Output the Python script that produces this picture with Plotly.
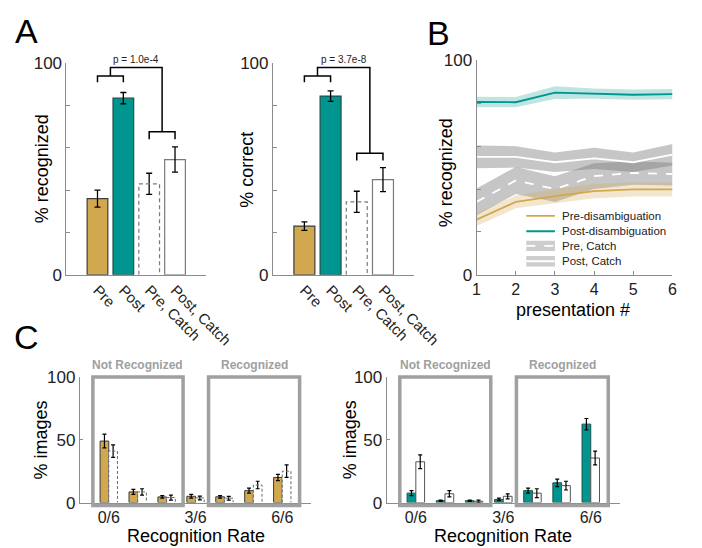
import plotly.graph_objects as go

#######################################################
# data

conditions = ['Pre', 'Post', 'Pre, Catch', 'Post, Catch']
recognized_mean = [36, 83.5, 43, 54.5]
recognized_err = [4, 2.7, 5, 6]
correct_mean = [23, 84.5, 34.5, 45]
correct_err = [2, 2.5, 5, 5.7]
p_recognized = 'p = 1.0e-4'
p_correct = 'p = 3.7e-8'

presentation = [1, 2, 3, 4, 5, 6]
pre_line = [25.7, 34, 36.7, 39, 39.8, 39.8]
pre_band = [3, 3, 3.3, 3.3, 3.3, 3.3]
post_line = [80.6, 80.5, 85, 84.5, 84, 84.3]
post_band = [2.4, 2.4, 3, 2.4, 2.4, 2.4]
pre_catch_line = [34, 44, 40, 46, 47.5, 47]
pre_catch_band = [6.3, 6.3, 6, 6, 5.5, 5.3]
post_catch_line = [55, 55, 52.5, 54.3, 52.5, 56]
post_catch_band = [5.3, 5, 4.5, 5, 4.5, 5]

rate_labels = ['0/6', '1/6', '2/6', '3/6', '4/6', '5/6', '6/6']
pre_hist = [49, 8.5, 4.5, 5, 4.6, 9.5, 20]
pre_hist_err = [5.5, 2, 1, 1.5, 1, 2, 2.5]
pre_catch_hist = [41, 8.5, 4, 3.7, 3.5, 14, 25]
pre_catch_hist_err = [5, 2.5, 2, 1.5, 1.5, 3, 5]
post_hist = [7.5, 1.5, 1.5, 2.5, 9.5, 15.7, 62.5]
post_hist_err = [2, 0.5, 0.5, 1, 2, 3, 4.5]
post_catch_hist = [32.5, 7, 1, 5, 7.5, 13.5, 35.5]
post_catch_hist_err = [5.5, 2.5, 1, 2, 3.5, 3.5, 5.5]

#######################################################
# style

W, H = 702, 548
GOLD = '#D2A84E'
TEAL = '#00968F'
AXIS = '#8c8c8c'
FONT = 'Liberation Sans'
TXT = '#222222'

def px(x):
    return x / W

def py(y):
    return 1 - y / H

# axis domains in pixels (left, right, bottom, top)
A1 = (57, 203, 267, 48)
A2 = (273, 421, 267, 48)
B = (486, 691, 267, 45)
C1 = (71, 313, 503, 373)
C2 = (392, 636, 503, 373)
A_RANGE = [-0.2, 5.2]
C_RANGE = [-1, 7]

fig = go.Figure()


def set_axes(n, box, xrange, yrange, x=None, y=None):
    xa = 'xaxis' if n == 1 else f'xaxis{n}'
    ya = 'yaxis' if n == 1 else f'yaxis{n}'
    common = dict(showline=True, linecolor=AXIS, linewidth=1, showgrid=False,
                  zeroline=False, mirror=False,
                  tickfont=dict(family=FONT, size=17, color=TXT))
    fig.update_layout({
        xa: {**common, 'domain': [px(box[0]), px(box[1])], 'range': xrange,
             'anchor': f'y{n}' if n > 1 else 'y', **(x or {})},
        ya: {**common, 'domain': [py(box[2]), py(box[3])], 'range': yrange,
             'anchor': f'x{n}' if n > 1 else 'x', **(y or {})},
    })


# 조건별 막대 + bracket
def bar_panel(n, means, errs, pval, h2):
    xa, ya = f'x{n}', f'y{n}'
    xs = [1, 2, 3, 4]
    fig.add_trace(go.Bar(
        x=xs, y=means, width=0.8,
        marker=dict(color=[GOLD, TEAL, 'white', 'white'],
                    line=dict(color=['#3c3c3c', '#1d4f4c', 'rgba(0,0,0,0)', '#7a7a7a'], width=1.2)),
        error_y=dict(type='data', array=errs, color='black', thickness=1.3, width=3),
        xaxis=xa, yaxis=ya, showlegend=False))
    # dashed outline for the "Pre, Catch" bar
    i = 2
    fig.add_trace(go.Scatter(
        x=[xs[i] - 0.4, xs[i] - 0.4, xs[i] + 0.4, xs[i] + 0.4],
        y=[0, means[i], means[i], 0], mode='lines',
        line=dict(color='#7a7a7a', width=1.2, dash='4px,3px'),
        xaxis=xa, yaxis=ya, showlegend=False, hoverinfo='skip'))
    # significance bracket
    fig.add_trace(go.Scatter(
        x=[1, 1, 2, 2, None, 1.5, 1.5, 3.5, 3.5, None, 3, 3, 4, 4],
        y=[91, 94, 94, 91, None, 94, 98, 98, h2, None, h2 - 3.5, h2, h2, h2 - 3.5],
        mode='lines', line=dict(color='black', width=1.5),
        xaxis=xa, yaxis=ya, showlegend=False, hoverinfo='skip'))
    fig.add_annotation(x=2.5, y=98.5, xref=xa, yref=ya, text=pval, showarrow=False,
                       xanchor='center', yanchor='bottom', font=dict(family=FONT, size=10, color=TXT))


bar_panel(1, recognized_mean, recognized_err, p_recognized, 67.6)
bar_panel(2, correct_mean, correct_err, p_correct, 57.5)

a_x = dict(tickvals=[1, 2, 3, 4], ticktext=conditions, tickangle=45, ticks='',
           tickfont=dict(family=FONT, size=15, color=TXT))
a_y = dict(tickvals=[0, 20, 40, 60, 80, 100], ticktext=['0', '', '', '', '', '100'],
           ticks='inside', ticklen=4, tickcolor=AXIS)
set_axes(1, A1, A_RANGE, [0, 100], x=a_x, y=a_y)
set_axes(2, A2, A_RANGE, [0, 100], x=a_x, y=a_y)

#######################################################
# B: presentation 별 인식률 (line + band)

series_b = [
    (pre_catch_line, pre_catch_band, 'rgba(120,120,120,0.42)', 'white', 'dash'),
    (post_catch_line, post_catch_band, 'rgba(120,120,120,0.42)', 'white', 'solid'),
    (pre_line, pre_band, 'rgba(210,168,78,0.28)', GOLD, 'solid'),
    (post_line, post_band, 'rgba(0,150,143,0.25)', TEAL, 'solid'),
]
for mean, band, fillc, linec, dash in series_b:
    upper = [m + b for m, b in zip(mean, band)]
    lower = [m - b for m, b in zip(mean, band)]
    fig.add_trace(go.Scatter(
        x=presentation + presentation[::-1], y=upper + lower[::-1],
        fill='toself', fillcolor=fillc, line=dict(width=0), mode='lines',
        xaxis='x3', yaxis='y3', showlegend=False, hoverinfo='skip'))
for mean, band, fillc, linec, dash in series_b:
    fig.add_trace(go.Scatter(
        x=presentation, y=mean, mode='lines',
        line=dict(color=linec, width=1.8, dash=dash),
        xaxis='x3', yaxis='y3', showlegend=False))

set_axes(3, B, [1, 6], [0, 100],
         x=dict(tickvals=presentation, ticks='inside', ticklen=4, tickcolor=AXIS,
                tickfont=dict(family=FONT, size=16, color=TXT)),
         y=dict(tickvals=[0, 20, 40, 60, 80, 100], ticktext=['0', '', '', '', '', '100'],
                ticks='inside', ticklen=4, tickcolor=AXIS))

# legend drawn inside panel B
legend_b = [
    ('Pre-disambiguation', GOLD, None),
    ('Post-disambiguation', TEAL, None),
    ('Pre, Catch', 'white', 'dash'),
    ('Post, Catch', 'white', 'solid'),
]
leg_rows = [27.5, 20.3, 13.5, 6.3]
for (label, color, band), yy in zip(legend_b, leg_rows):
    if band:
        fig.add_shape(type='rect', xref='x3', yref='y3', x0=2.27, x1=3.0,
                      y0=yy - 2.4, y1=yy + 2.4, fillcolor='#cdcdcd',
                      line=dict(width=0), opacity=1)
    fig.add_shape(type='line', xref='x3', yref='y3', x0=2.27, x1=3.0, y0=yy, y1=yy,
                  line=dict(color=color, width=1.8, dash=band if band else 'solid'), opacity=1)
    fig.add_annotation(x=3.12, y=yy, xref='x3', yref='y3', text=label, showarrow=False,
                       xanchor='left', font=dict(family=FONT, size=11.5, color=TXT))

#######################################################
# C: 이미지별 인식 비율 히스토그램

def hist_panel(n, box, main, main_err, catch, catch_err, color, edge, dashed):
    xa, ya = f'x{n}', f'y{n}'
    xs = list(range(len(rate_labels)))
    fig.add_trace(go.Bar(
        x=[x - 0.15 for x in xs], y=main, width=0.3,
        marker=dict(color=color, line=dict(color=edge, width=1)),
        error_y=dict(type='data', array=main_err, color='black', thickness=1.2, width=2),
        xaxis=xa, yaxis=ya, showlegend=False))
    fig.add_trace(go.Bar(
        x=[x + 0.15 for x in xs], y=catch, width=0.3,
        marker=dict(color='white', line=dict(color='rgba(0,0,0,0)' if dashed else '#555555', width=1)),
        error_y=dict(type='data', array=catch_err, color='black', thickness=1.2, width=2),
        xaxis=xa, yaxis=ya, showlegend=False))
    if dashed:
        ox, oy = [], []
        for x, v in zip(xs, catch):
            ox += [x, x, x + 0.3, x + 0.3, None]
            oy += [0, v, v, 0, None]
        fig.add_trace(go.Scatter(x=ox, y=oy, mode='lines',
                                 line=dict(color='#6a6a6a', width=1, dash='3px,2px'),
                                 xaxis=xa, yaxis=ya, showlegend=False, hoverinfo='skip'))
    # grey group boxes (drawn in paper coords so they may poke below the axis)
    def tx(v):
        return px(box[0] + (v - C_RANGE[0]) / (C_RANGE[1] - C_RANGE[0]) * (box[1] - box[0]))

    def ty(v):
        return py(box[2] - v / 100 * (box[2] - box[3]))

    for (x0, x1), name in [((-0.55, 2.57), 'Not Recognized'), ((3.45, 6.6), 'Recognized')]:
        fig.add_shape(type='rect', xref='paper', yref='paper',
                      x0=tx(x0), x1=tx(x1), y0=ty(-2.3), y1=ty(100),
                      fillcolor='rgba(0,0,0,0)', opacity=1,
                      line=dict(color='#a0a0a0', width=3.5))
        fig.add_annotation(x=(tx(x0) + tx(x1)) / 2, y=ty(100) + 3 / H, xref='paper', yref='paper',
                           text=f'<b>{name}</b>', showarrow=False,
                           xanchor='center', yanchor='bottom',
                           font=dict(family=FONT, size=12, color='#a0a0a0'))
    set_axes(n, box, C_RANGE, [0, 100],
             x=dict(tickvals=[0, 3, 6], ticktext=[rate_labels[0], rate_labels[3], rate_labels[6]],
                    ticks='', tickfont=dict(family=FONT, size=16, color=TXT)),
             y=dict(tickvals=[0, 50, 100], ticks='inside', ticklen=3, tickcolor=AXIS))


hist_panel(4, C1, pre_hist, pre_hist_err, pre_catch_hist, pre_catch_hist_err, GOLD, '#3c3c3c', True)
hist_panel(5, C2, post_hist, post_hist_err, post_catch_hist, post_catch_hist_err, TEAL, '#1d4f4c', False)

#######################################################
# axis titles and panel letters

def label(x, y, text, size, angle=0):
    fig.add_annotation(x=px(x), y=py(y), xref='paper', yref='paper', text=text,
                       showarrow=False, textangle=angle, xanchor='center', yanchor='middle',
                       font=dict(family=FONT, size=size, color='black'))

label(31, 157, '% recognized', 18, -90)
label(245, 158, '% correct', 18, -90)
label(455, 161, '% recognized', 18, -90)
label(30, 438, '% images', 18, -90)
label(353, 438, '% images', 18, -90)
label(587, 304, 'presentation #', 18)
label(193, 538, 'Recognition Rate', 18)
label(514, 538, 'Recognition Rate', 18)
label(15, 14, 'A', 34)
label(446, 17, 'B', 34)
label(15, 331, 'C', 34)

fig.update_layout(width=W, height=H, margin=dict(l=0, r=0, t=0, b=0),
                  template='simple_white', plot_bgcolor='white', paper_bgcolor='white',
                  barmode='overlay', showlegend=False,
                  font=dict(family=FONT, color=TXT))

fig.write_html('out.html')
